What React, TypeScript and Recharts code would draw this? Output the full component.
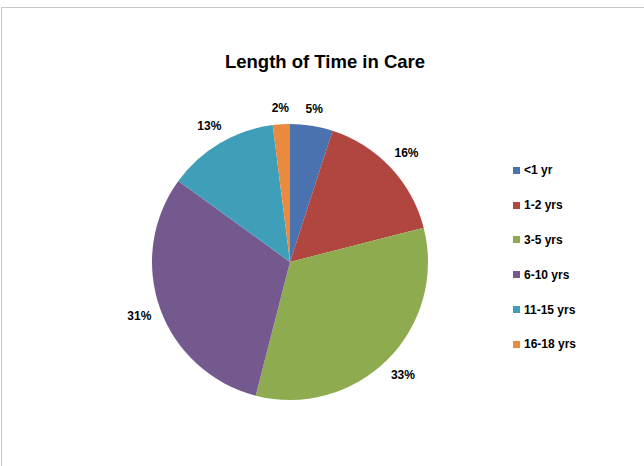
import React from 'react';
import { PieChart, Pie, Cell, Legend } from 'recharts';

const categories = ['<1 yr', '1-2 yrs', '3-5 yrs', '6-10 yrs', '11-15 yrs', '16-18 yrs'];
const values = [5, 16, 33, 31, 13, 2];
const colors = ['#4A72AE', '#B0463F', '#8EAC4F', '#74598F', '#409FB8', '#EA8A3E'];

const data = categories.map((name, i) => ({ name, value: values[i] }));

const RAD = Math.PI / 180;
const FONT = '"Liberation Sans", Arial, sans-serif';

const renderLabel = (props: any) => {
  const { cx, cy, midAngle, outerRadius, value } = props;
  const text = `${value}%`;
  const w = text.length * 7.5;
  const h = 12;
  const ux = Math.cos(-midAngle * RAD);
  const uy = Math.sin(-midAngle * RAD);
  const r = outerRadius + 9.5 + Math.abs(ux) * (w / 2) + Math.abs(uy) * (h / 2);
  const x = cx + r * ux;
  const y = cy + r * uy;
  return (
    <text x={x} y={y} textAnchor="middle" dominantBaseline="central" fontFamily={FONT} fontWeight="bold" fontSize={12} fill="#000">
      {text}
    </text>
  );
};

const renderLegend = (props: any) => {
  const payload = [...(props.payload || [])].sort(
    (a: any, b: any) => categories.indexOf(a.value) - categories.indexOf(b.value)
  );
  return (
    <div style={{ fontFamily: FONT }}>
      {payload.map((entry: any, i: number) => (
        <div key={i} style={{ display: 'flex', alignItems: 'center', height: 34.8 }}>
          <span style={{ display: 'inline-block', width: 7, height: 7, background: entry.color, marginRight: 4 }} />
          <span style={{ fontSize: 12, fontWeight: 'bold', color: '#000' }}>{entry.value}</span>
        </div>
      ))}
    </div>
  );
};

export default function App() {
  return (
    <div style={{ position: 'absolute', left: 0, top: 0, width: 644, height: 466, background: '#fff' }}>
      <div style={{ position: 'absolute', left: 1, top: 7, width: 643, height: 459, borderTop: '1px solid #c8c8c8', borderLeft: '1px solid #c8c8c8' }} />
      <div style={{ position: 'absolute', left: 125, top: 51, width: 400, textAlign: 'center', fontFamily: FONT, fontWeight: 'bold', fontSize: 18.5, color: '#000' }}>
        Length of Time in Care
      </div>
      <div style={{ position: 'absolute', left: 0, top: 0 }}>
        <PieChart width={644} height={466} margin={{ top: 0, right: 0, bottom: 0, left: 0 }}>
          <Pie
            data={data}
            dataKey="value"
            nameKey="name"
            cx={290}
            cy={262}
            outerRadius={138}
            startAngle={90}
            endAngle={-270}
            stroke="none"
            label={renderLabel}
            labelLine={false}
            isAnimationActive={false}
          >
            {data.map((d, i) => (
              <Cell key={d.name} fill={colors[i]} />
            ))}
          </Pie>
          <Legend content={renderLegend} itemSorter={null as any} layout="vertical" wrapperStyle={{ left: 513, top: 153, width: 120 }} />
        </PieChart>
      </div>
    </div>
  );
}
